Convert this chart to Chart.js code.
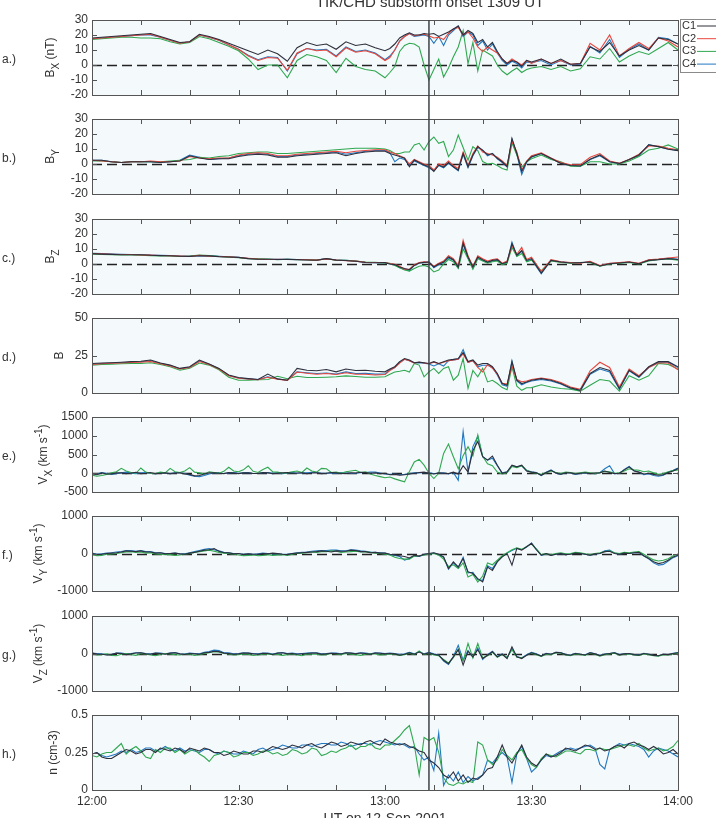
<!DOCTYPE html>
<html>
<head>
<meta charset="utf-8">
<script src="https://cdn.jsdelivr.net/npm/chart.js@4.4.1/dist/chart.umd.min.js"></script>
<style>
html, body { margin: 0; padding: 0; background: #fff; }
#wrap { position: relative; width: 716px; height: 818px; overflow: hidden; background: #fff; }
#wrap canvas { position: absolute; left: 0; }
</style>
</head>
<body>
<div id="wrap"></div>
<script>
// time axes, minutes after 12:00 UT (field panels on a coarser grid than the plasma panels)
const minutes = [0,2,4,6,8,10,12,14,16,18,20,22,24,26,28,30,32,34,36,38,40,42,44,46,48,50,52,54,56,58,60,
  61,62,63,64,65,66,67,68,69,70,71,72,73,74,75,76,77,78,79,80,81,82,83,84,85,86,87,88,89,90,
  92,94,96,98,100,102,104,106,108,110,112,114,116,118,120];
const minutesFine = [0,1,2,3,4,5,6,7,8,9,10,11,12,13,14,15,16,17,18,19,20,21,22,23,24,25,26,27,28,29,30,
  31,32,33,34,35,36,37,38,39,40,41,42,43,44,45,46,47,48,49,50,51,52,53,54,55,56,57,58,59,60,
  61,62,63,64,65,66,67,68,69,70,71,72,73,74,75,76,77,78,79,80,81,82,83,84,85,86,87,88,89,90,
  91,92,93,94,95,96,97,98,99,100,101,102,103,104,105,106,107,108,109,110,111,112,113,114,115,116,117,118,119,120];
const timeTicks = [0,10,20,30,40,50,60,70,80,90,100,110,120];
const timeLabelMinutes = [0,30,60,90,120];
const timeLabels = ['12:00','12:30','13:00','13:30','14:00'];
const onsetMinute = 69; // 13:09 UT

// tick labels for each panel
const bTicks = [-20,-10,0,10,20,30];
const btTicks = [0,25,50];
const vxTicks = [-500,0,500,1000,1500];
const vTicks = [-1000,0,1000];
const nTicks = [0,0.25,0.5];

// a.) Bx (nT)
const bx1 = [18,18.5,19,19.5,20,20.5,21,19,17,15,15.5,20.5,19,17,14.5,12,9.5,7,10,7.5,2.5,11.5,15,13,14,10.5,15.5,13,14,11.5,9.5, 11,14,18,20,21.5,20,20,21,20.5,21,19,20.5,22,24,26,20,23,21,15,17,12,15,9,4,1,3,2,-1,3,2, 4,1,4,0.5,1,12,9,15,6,10,13,10,18,17,14];
const bx2 = [17.5,18,18.5,19,19.5,20,20.5,18.5,16.5,14.5,15.5,20,18.5,16.5,13.5,10.5,6,3,5,4.5,-3.5,8,11,9.5,10,5.5,11.5,8.5,9.5,7.5,3, 5,10,16,19,21,19.5,20,20.5,19.5,18,18.5,17,21,24,25,20,22,18,12,9,12,10,8,4,1,4,2,0,3,1, 4,1,3,0.5,1,14.5,10,20,6,11,15,11,18,16,12];
const bx3 = [17,17.5,18,18.5,18.5,18,18,17.5,15.5,14,15,19,17.5,15,12.5,9.5,4,-3,0,0,-8.5,3,7,5.5,3,-5,4.5,-1,-3,-4,-8.5, -5,-1,9,13,14.5,14,12,0,-10,-3,4,-8,-2,5.5,12,23,1,15,-4,10,8,6,0,-4,-6.5,-4,-2,-5,-3,-2, -1,-3,-1,-4,-2.5,5.5,4,11,2,6,9,7,11,15,10];
const bx4 = [17.5,18,18.5,19,19.5,20,20,18.5,16.5,14.5,15.5,20,18.5,16.5,13.5,10.5,6.5,3.5,5.5,5,-4,7.5,11,10,10.5,6,12,9,10,8,3.5, 6,10,16,19,21,19,19.5,20,19,14.5,19,13,20,23,26,19,22,20,13,16,10,14,8,3,0,2.5,1,-2,2,1.5, 3,0,3,0,0.5,12.5,8,17,5,10.5,14,10,18.5,17.5,14];

// b.) By
const by1 = [2.5,2.5,1.5,1,1.5,1.5,1.5,1,1.5,2,5.5,4,3,3.5,3.5,5,6,6.5,6,4.5,4.5,5.5,6,6.5,7,7.5,5.5,7,8,8.5,8.5, 7,6,5,3.8,-1.8,2.7,1,-0.7,-1.8,-5,-0.7,-2,1,-1.8,-4,7,-1.8,6,11.6,9.3,6,7,3.8,1.5,-1.8,17,7,-5,1.5,4.9, 7,3.8,0.4,-1,-1.3,3.1,6,1.5,0.4,3,6,12.7,11.6,9.8,8.9];
const by2 = [2.5,2,1.5,1,1.5,1.5,2,1.5,1.5,2,5,4,3.5,4,4,6,7,7.5,7,5.5,5.5,6.5,7,7.5,8,8.5,7.5,8.5,9,9.5,9.5, 8,7,5.5,4,0,3,1.5,0,-1,-4,0,-1,2,-1,-3,8,-1,7,12,8,7,6,4.5,2,-1,15,8,-4,2,5.5, 7.5,4,1,-0.5,-0.5,4.5,7,2,0.5,3,6.5,12,12,10.5,9.5];
const by3 = [2,2,1.5,1,1.5,1.5,1.5,1.5,2,2.5,3,4.5,4,5,5.5,7,7.5,8,8,7,7,7.5,8,8.5,9,9.5,10,10.5,10.5,10.5,10, 9,7,7,8,8,12.7,13.8,9.3,15,18,13.8,15,5,9.3,19.3,11,2.5,11.6,9,1.6,0,0.5,-1,-3,-4,14,6,-2,1.5,3.5, 6,3,1.5,-1.5,-1.5,1.5,1.5,0,0,2,5,9.3,10.5,12.7,10];
const by4 = [2.5,2.5,1.5,1,1.5,1.5,1.5,1,1.5,2.5,6,4.5,3,3.5,4,5.5,6.5,7,6.5,5,5,6,6.5,7,7.5,8,6.5,7.5,8.5,9,9, 7.5,1.5,4,3,-1,2,0.5,-1,-2.5,-4.5,-1,-2.5,0.5,-2,-4.5,6.5,-2.5,5.5,11,9,5.5,7,3.5,1,-2,16.5,6.5,-7,1,4.5, 7,3.5,0.5,-1,-1.5,3,5.5,1.5,0,3,5.5,13,11.5,10,9];

// c.) Bz
const bz1 = [6.9,6.6,6.4,6.2,6.2,6.2,5.8,5.6,5.5,5.2,5.1,5.5,5.4,4.9,4.7,4.4,3.6,3.2,3.2,3,3.1,2.9,2.7,2.5,3.6,2.6,2.3,1.8,1,0.8,0.9, 0,-0.4,-2,-3,-3.8,-0.9,0.7,1.1,1.3,-2,0,1.3,4.7,2.9,-2,14,4.7,-2,4.7,2.9,1.3,2.4,2.9,0.2,1.3,13.6,5.8,9,2.4,3.6, -6,2.4,1.3,0.7,0.9,1.3,-1.3,0.2,0.7,1.3,0.2,2.4,2.9,3.6,3];
const bz2 = [7,6.8,6.5,6.3,6.3,6,5.9,5.7,5.5,5.3,5,5.8,5.2,5,4.8,4.3,3.8,3.3,3,3.2,3,3,2.8,2.6,3.4,2.7,2.2,1.9,1.2,1,1, 0.3,-0.2,-1.5,-3.5,-3.5,-0.5,1,1.5,1,-1.5,0.5,2,5.5,3.5,-1,15.8,5.5,-1.5,5.5,3.5,2,3,3.5,0.5,2,12,6.5,11,3,4.5, -5,3,1.5,1,0.5,1.8,-1,0.5,1,1.5,0.5,2.8,3.3,4,4.7];
const bz3 = [6.5,6.3,6.2,6,6,5.8,5.6,5.4,5.3,5,5.3,5.9,5.6,5,4.6,4.2,3.5,3.4,3.3,2.8,3.2,2.8,2.9,2.6,3.5,2.5,2.4,2,1.3,1.1,0.7, 0.5,-1,-2.5,-4,-4.7,-3,-1.5,-1,-2,-5.3,-4,0,3,1.5,-3,10,3.5,-3.5,3.5,2,0.5,1.5,2,-0.5,0.5,11,5,7,1.5,2.5, -4.5,2,1,0.5,1,1,-1.5,0,0.5,1,0,2,3,3.3,2.5];
const bz4 = [7.2,6.9,6.6,6.4,6.3,6.1,6,5.8,5.6,5.3,5.2,5.6,5.4,5.1,4.8,4.5,3.7,3.3,3.1,3.1,3.2,3,2.8,2.6,3.7,2.7,2.4,1.9,1.1,0.9,0.8, 0,-0.5,-2.5,-3.5,-4.5,-1,0.5,1,1.5,-2.5,-0.5,1,4,2.5,-2.5,13,4,-3,4,2.5,1,2,2.5,0,1,14.5,5.5,8.5,2,3, -6.5,2.5,1.5,0.8,0.8,1.5,-1.2,0.3,0.8,1.2,0.3,2.6,3.1,3.8,3.2];

// d.) |B|
const bt1 = [19.7,20,20.2,20.5,20.9,21.2,22,20,18.6,16.4,17.5,22,19.3,16.4,12,10.3,9.6,9,12.6,9.4,8.5,16.4,15.2,14.8,15.7,14.1,16,15,15.2,14.5,14.1, 16,17.5,20.9,23,22,20.2,20.6,20.2,19.7,20.9,19.7,20.9,22,22.4,23,27,21,22,18.6,19.7,19.7,17.5,13,6.3,5.2,20.9,8.5,6.3,7.4,8.5, 9.6,8.5,6.3,3.4,1.8,13,17,15,2.9,15.2,10.8,17.5,20.9,20.9,17.5];
const bt2 = [19,19.5,19.8,20,20.3,20.6,21,19.5,18,16,17,21,19,16,11.5,9.8,9.3,8.8,10.5,9.2,8.4,14,13.2,12.5,13,12.3,13.5,12.5,12.5,12,12.3, 15,17,20,22.5,21.5,20,20.5,20,19.5,20.5,19.5,20.5,21.5,22,22.5,26,20.5,21.5,17,14,19,16.5,12.5,6.5,6,18,9,7.5,8,9, 10,9,7,4,2.5,14.8,20.5,17,4,16,11.5,17,20,20,15.5];
const bt3 = [18.6,19,19.2,19.5,19.7,19.7,20.2,19,17.5,15.2,16.5,20,18.6,15.5,10.5,8.5,8.5,8.8,9,11.2,9.5,11.2,10.3,10.3,10.5,10.8,11.4,11,10.5,10.5,10.8, 12.5,14,14.5,15.2,14,19.7,18.6,10.8,14.1,16.4,13,16.4,17.5,8.5,11.9,23,3,15,10.8,16.4,7.4,8.5,6.3,3.6,2.2,17.5,4.5,1.8,3.5,3.6, 5.5,4,3,2.5,1.2,5.2,9,8,1.2,11.5,8.5,11.5,19.7,19,16];
const bt4 = [19.2,19.6,20,20.2,20.5,20.8,21.5,19.8,18.3,16.2,17.2,21.5,19.1,16.2,11.7,10,9.4,8.9,10.8,9.3,8.5,14.1,13.5,13,13.3,12.6,14.1,13,13.2,12.6,12.6, 15.5,17,20.5,22.5,21.5,20,20.2,19.8,19.3,18,19.5,18,21.5,22,22.5,29,20.5,21.5,17.5,18.5,18.5,17,12,5.5,4.5,21.5,8,5.5,7,8, 9,8,6,3,1.5,12.5,16,14,2.5,14.8,10.5,17,20.5,20.5,17];

// e.) Vx (km/s) - no ion data from C2
const vx1 = [-10,-40,10,-20,-20,10,15,-10,5,25,-10,0,20,-15,0,10,-15,5,10,-20,-30,-70,-60,-20,10,15,0,-10,20,5,-10,10,15,-5,-5,20,10,-15,0,10,20,0,5,15,-15,5,10,-10,0,20,15,-5,-10,10,5,25,20,0,10,-10,0,
  -40,-30,-50,-40,-20,0,20,30,0,-20,10,0,-10,30,-20,200,35,600,850,440,350,460,215,0,35,215,170,215,60,30,
  10,-55,20,80,10,-25,15,10,-20,0,15,-10,5,10,60,20,-10,0,90,170,60,30,-20,0,-30,-55,-40,20,60,125];
const vx3 = [-50,-80,-60,-30,10,40,130,60,20,0,140,30,0,-10,30,10,130,40,20,60,150,30,10,-20,40,20,0,50,160,60,40,90,200,50,20,100,160,40,30,0,10,40,60,20,140,60,30,130,120,20,30,0,40,60,80,20,40,-20,-60,-90,-120,
  -100,-150,-190,-230,50,300,370,215,0,-140,0,530,780,440,120,470,710,460,1020,450,250,200,30,-20,10,180,150,200,80,20,
  0,-30,10,60,20,-10,30,20,-10,10,30,10,-10,20,50,40,0,10,60,120,90,80,40,60,10,-30,-10,40,70,90];
const vx4 = [0,-20,20,0,-30,-10,10,30,0,-15,10,20,0,-10,10,5,-10,15,20,-5,-50,-80,-90,-60,-20,5,10,-5,10,20,0,10,20,-5,0,15,20,5,10,-10,10,20,0,15,10,25,20,0,0,10,0,20,10,-5,0,15,20,35,30,5,-20,
  -30,-20,-40,-30,-10,10,10,20,10,-10,0,10,-20,20,-190,1110,35,710,980,440,350,400,200,10,40,200,170,200,70,40,
  20,-60,30,90,0,-30,20,5,-30,-5,10,-5,-10,15,120,200,-10,-5,100,180,70,25,-40,-10,-60,-80,-50,25,80,140];

// f.) Vy
const vy1 = [0,-30,-20,0,10,20,40,70,60,50,70,40,40,10,20,-10,0,10,-10,-20,10,30,60,90,100,130,60,20,20,-10,0,-30,-10,-20,-20,0,-10,10,0,-20,-30,0,10,20,30,40,50,70,60,40,70,60,60,90,80,50,50,20,30,10,10,
  -20,-40,-60,-80,-120,-50,-70,-20,0,20,-20,-90,-400,-225,-360,-135,-490,-535,-670,-760,-360,-450,-225,-90,0,-310,135,90,180,270,
  100,-45,0,-50,-20,0,-30,-20,10,0,-20,-45,-10,0,50,60,0,-20,10,0,20,30,-60,-135,-220,-270,-240,-180,-90,-45];
const vy3 = [-30,-60,-50,-20,-10,0,20,40,50,30,40,10,20,-10,-20,-30,-30,-50,-40,-20,0,30,50,70,90,60,30,10,0,-20,-40,-60,-50,-40,-60,-50,-30,-50,-40,-30,-50,-20,0,10,20,40,30,50,50,70,60,30,40,50,60,40,40,30,10,0,-20,
  -40,-100,-135,-150,-150,-70,-60,-40,-20,0,-40,-150,-350,-300,-400,-250,-625,-560,-760,-600,-250,-300,-180,-60,20,100,150,110,190,250,
  120,-30,-10,-30,0,20,-10,0,30,20,-10,-30,0,20,50,70,20,0,30,20,40,50,-20,-100,-170,-200,-180,-140,-60,-20];
const vy4 = [10,-20,-10,10,20,40,50,80,80,60,80,50,50,20,20,0,0,10,-10,-10,20,50,80,110,130,100,70,30,20,0,0,-20,-10,-20,-10,10,0,-10,-10,-20,-20,0,20,30,40,60,70,80,80,90,90,70,70,100,90,70,60,40,30,20,10,
  -30,-50,-80,-180,-130,-60,-80,-30,-10,10,-30,-100,-420,-250,-380,-100,-520,-500,-700,-715,-330,-400,-200,-80,10,80,140,100,170,280,
  110,-50,-10,-45,-20,0,-30,-15,10,0,-20,-45,-10,0,70,90,10,-20,10,0,20,30,-70,-140,-250,-310,-290,-200,-110,-60];

// g.) Vz
const vz1 = [10,-15,-20,-40,-30,10,0,-30,-10,15,20,-10,-20,10,0,-20,10,20,-10,-25,0,-10,-20,20,30,60,50,10,0,-20,-10,15,10,-10,-20,5,0,-25,10,20,-10,0,-20,-10,0,15,10,-20,-10,5,0,-15,20,10,-10,15,0,-20,10,5,-10,
  0,-10,-45,-20,20,-20,40,-20,20,-20,-45,-180,-270,-90,100,-310,60,-90,100,-135,-45,45,-90,-20,-135,180,-90,-135,-45,20,
  -20,-70,0,-20,30,20,-30,-45,0,-20,-40,20,-10,-55,-20,0,20,-35,-10,0,-30,-45,0,-20,-50,-60,-20,-30,0,20];
const vz3 = [-10,-40,-30,-10,-50,-60,-20,0,-30,-50,0,-20,-40,-60,-20,0,-10,-30,-40,-20,-20,-50,-30,0,20,50,40,0,-10,-40,-30,-10,-20,-50,-40,-20,-10,-30,-20,-50,-30,-10,-40,-60,-10,-20,-20,-40,-30,0,-10,-30,0,-20,-30,-50,-20,-10,-10,-40,-30,
  -10,-20,-50,-30,10,-30,70,-30,10,-40,-60,-160,-250,-110,120,-200,270,-120,270,-120,-60,30,-100,-30,-100,100,-100,-110,-50,10,
  -30,-80,-20,-30,20,10,-40,-60,-10,-30,-50,10,-20,-70,-30,-10,10,-45,-20,-10,-40,-55,-10,-30,-60,-70,-30,-40,-10,10];
const vz4 = [10,0,-10,-30,-20,15,10,-10,0,20,20,0,-10,10,10,-10,10,25,-10,-15,10,0,-10,30,50,90,80,20,20,-10,0,20,10,0,-10,10,10,-15,10,25,0,10,-10,0,10,20,20,-5,0,10,10,-5,20,15,0,20,10,-10,20,15,0,
  10,0,-30,-10,30,-10,50,-10,30,-10,-40,-200,-290,-80,220,-180,80,-100,150,-160,-30,60,-80,-10,-120,130,-80,-120,-30,30,
  -10,-65,5,-20,30,25,-25,-40,5,-20,-35,25,-5,-50,-15,0,25,-30,-5,0,-25,-40,5,-20,-45,-60,-20,-25,5,25];

// h.) density (cm-3)
const n1 = [0.24,0.25,0.22,0.21,0.21,0.23,0.25,0.27,0.26,0.24,0.25,0.27,0.27,0.25,0.28,0.27,0.26,0.28,0.27,0.25,0.28,0.27,0.26,0.28,0.27,0.25,0.25,0.23,0.24,0.26,0.25,0.24,0.24,0.26,0.26,0.25,0.27,0.29,0.28,0.27,0.28,0.30,0.29,0.28,0.30,0.31,0.29,0.28,0.30,0.32,0.31,0.29,0.30,0.32,0.31,0.30,0.32,0.33,0.31,0.30,0.34,
  0.32,0.31,0.30,0.31,0.29,0.28,0.26,0.25,0.20,0.18,0.15,0.10,0.08,0.12,0.06,0.10,0.05,0.08,0.07,0.10,0.14,0.15,0.22,0.30,0.22,0.18,0.24,0.30,0.22,0.18,
  0.16,0.20,0.24,0.22,0.23,0.25,0.28,0.27,0.26,0.28,0.30,0.29,0.27,0.28,0.26,0.27,0.29,0.30,0.28,0.31,0.32,0.30,0.29,0.27,0.29,0.27,0.24,0.25,0.27,0.24];
const n3 = [0.23,0.22,0.24,0.25,0.25,0.28,0.31,0.24,0.27,0.29,0.26,0.22,0.21,0.27,0.25,0.28,0.28,0.25,0.27,0.24,0.26,0.27,0.24,0.22,0.19,0.23,0.24,0.26,0.25,0.22,0.23,0.25,0.25,0.23,0.24,0.26,0.26,0.24,0.25,0.23,0.24,0.27,0.26,0.24,0.25,0.28,0.27,0.23,0.24,0.26,0.25,0.27,0.28,0.30,0.27,0.29,0.29,0.31,0.28,0.27,0.30,
  0.30,0.33,0.36,0.40,0.43,0.30,0.10,0.35,0.33,0.35,0.25,0.08,0.04,0.03,0.05,0.04,0.06,0.05,0.32,0.30,0.20,0.17,0.20,0.27,0.23,0.20,0.25,0.27,0.21,0.17,
  0.15,0.21,0.24,0.23,0.22,0.24,0.26,0.26,0.25,0.24,0.27,0.27,0.26,0.28,0.27,0.27,0.28,0.29,0.30,0.30,0.29,0.31,0.28,0.26,0.27,0.28,0.26,0.27,0.29,0.33];
const n4 = [0.24,0.25,0.23,0.22,0.23,0.24,0.26,0.25,0.27,0.25,0.26,0.28,0.28,0.26,0.27,0.29,0.27,0.26,0.28,0.26,0.27,0.26,0.25,0.27,0.27,0.25,0.24,0.26,0.25,0.24,0.24,0.26,0.25,0.24,0.27,0.28,0.26,0.27,0.28,0.30,0.29,0.28,0.28,0.30,0.30,0.29,0.30,0.31,0.31,0.30,0.30,0.32,0.31,0.29,0.30,0.31,0.31,0.30,0.32,0.33,0.32,
  0.31,0.30,0.31,0.30,0.28,0.29,0.24,0.20,0.22,0.13,0.38,0.03,0.10,0.06,0.12,0.05,0.09,0.06,0.08,0.10,0.20,0.18,0.22,0.25,0.22,0.05,0.24,0.29,0.21,0.12,
  0.15,0.20,0.23,0.22,0.24,0.26,0.27,0.28,0.27,0.28,0.29,0.30,0.28,0.17,0.14,0.27,0.29,0.31,0.30,0.31,0.30,0.29,0.27,0.22,0.26,0.28,0.27,0.26,0.24,0.22];

const colors = { C1: '#2e2f3c', C2: '#e8473d', C3: '#2fa84f', C4: '#2277c0' };
const FONT = '"Liberation Sans", Arial, sans-serif';

const panels = [
  { tag: 'a.)', yTitle: [['B', ''], ['X', 'sub'], [' (nT)', '']], titleX: 54, time: minutes, series: [bx1, bx2, bx3, bx4], names: ['C1', 'C2', 'C3', 'C4'], min: -20, max: 30, ticks: bTicks, zero: true },
  { tag: 'b.)', yTitle: [['B', ''], ['Y', 'sub']], titleX: 54, time: minutes, series: [by1, by2, by3, by4], names: ['C1', 'C2', 'C3', 'C4'], min: -20, max: 30, ticks: bTicks, zero: true },
  { tag: 'c.)', yTitle: [['B', ''], ['Z', 'sub']], titleX: 54, time: minutes, series: [bz1, bz2, bz3, bz4], names: ['C1', 'C2', 'C3', 'C4'], min: -20, max: 30, ticks: bTicks, zero: true },
  { tag: 'd.)', yTitle: [['B', '']], titleX: 63, time: minutes, series: [bt1, bt2, bt3, bt4], names: ['C1', 'C2', 'C3', 'C4'], min: 0, max: 50, ticks: btTicks, zero: false },
  { tag: 'e.)', yTitle: [['V', ''], ['X', 'sub'], [' (km s', ''], ['-1', 'sup'], [')', '']], titleX: 46.5, time: minutesFine, series: [vx1, vx3, vx4], names: ['C1', 'C3', 'C4'], min: -500, max: 1500, ticks: vxTicks, zero: true },
  { tag: 'f.)', yTitle: [['V', ''], ['Y', 'sub'], [' (km s', ''], ['-1', 'sup'], [')', '']], titleX: 41.5, time: minutesFine, series: [vy1, vy3, vy4], names: ['C1', 'C3', 'C4'], min: -1000, max: 1000, ticks: vTicks, zero: true },
  { tag: 'g.)', yTitle: [['V', ''], ['Z', 'sub'], [' (km s', ''], ['-1', 'sup'], [')', '']], titleX: 41.5, time: minutesFine, series: [vz1, vz3, vz4], names: ['C1', 'C3', 'C4'], min: -1000, max: 1000, ticks: vTicks, zero: true },
  { tag: 'h.)', yTitle: [['n (cm-3)', '']], titleX: 56.5, time: minutesFine, series: [n1, n3, n4], names: ['C1', 'C3', 'C4'], min: 0, max: 0.5, ticks: nTicks, zero: false }
];

// canvas stack: each canvas holds one panel, they tile the page vertically
const canvasTop = [0, 107, 207, 306, 405, 504, 604, 703];
const canvasH = [107, 100, 99, 99, 99, 100, 99, 115];
const padTop = [20, 12, 12, 12, 12, 12, 12, 12];
const areaH = 75;

Chart.defaults.font.family = FONT;
Chart.defaults.font.size = 12;
Chart.defaults.color = '#333';

function drawRotatedTitle(ctx, parts, x, yMid) {
  const widths = parts.map(([t, kind]) => {
    ctx.font = (kind ? 10 : 12) + 'px ' + FONT;
    return ctx.measureText(t).width;
  });
  const total = widths.reduce((s, w) => s + w, 0);
  ctx.save();
  ctx.translate(x, yMid);
  ctx.rotate(-Math.PI / 2);
  ctx.fillStyle = '#333';
  ctx.textAlign = 'left';
  ctx.textBaseline = 'alphabetic';
  let pos = -total / 2;
  parts.forEach(([t, kind], k) => {
    ctx.font = (kind ? 10 : 12) + 'px ' + FONT;
    const dy = kind === 'sub' ? 5 : kind === 'sup' ? -5 : 0;
    ctx.fillText(t, pos, dy);
    pos += widths[k];
  });
  ctx.restore();
}

function makeDecor(p, index, last) {
  return {
    id: 'decor' + index,
    beforeDraw(chart) {
      const { ctx, chartArea: a } = chart;
      ctx.save();
      ctx.fillStyle = '#f4f9fc';
      ctx.fillRect(a.left, a.top, a.right - a.left, a.bottom - a.top);
      ctx.restore();
    },
    beforeDatasetsDraw(chart) {
      if (!p.zero) return;
      const { ctx, chartArea: a } = chart;
      const y = Math.round(chart.scales.y.getPixelForValue(0)) + 0.5;
      ctx.save();
      ctx.strokeStyle = '#222';
      ctx.lineWidth = 1.4;
      ctx.setLineDash([10, 5]);
      ctx.beginPath();
      ctx.moveTo(a.left, y);
      ctx.lineTo(a.right, y);
      ctx.stroke();
      ctx.restore();
    },
    afterDraw(chart) {
      const { ctx, chartArea: a } = chart;
      const xs = chart.scales.x, ys = chart.scales.y;
      ctx.save();
      // frame and inside ticks
      ctx.strokeStyle = '#555';
      ctx.lineWidth = 1;
      ctx.strokeRect(Math.round(a.left) + 0.5, Math.round(a.top) + 0.5, Math.round(a.right - a.left), Math.round(a.bottom - a.top));
      ctx.beginPath();
      timeTicks.forEach(t => {
        const x = Math.round(xs.getPixelForValue(t)) + 0.5;
        ctx.moveTo(x, a.top); ctx.lineTo(x, a.top + 5);
        ctx.moveTo(x, a.bottom); ctx.lineTo(x, a.bottom - 5);
      });
      p.ticks.forEach(v => {
        const y = Math.round(ys.getPixelForValue(v)) + 0.5;
        ctx.moveTo(a.left, y); ctx.lineTo(a.left + 5, y);
        ctx.moveTo(a.right, y); ctx.lineTo(a.right - 5, y);
      });
      ctx.stroke();

      // onset line, continuous across stacked canvases
      const xo = xs.getPixelForValue(onsetMinute);
      ctx.strokeStyle = '#3d4346';
      ctx.lineWidth = 1.5;
      ctx.beginPath();
      ctx.moveTo(xo, index === 0 ? a.top : 0);
      ctx.lineTo(xo, last ? a.bottom : chart.height);
      ctx.stroke();

      // panel tag and axis title
      ctx.fillStyle = '#333';
      ctx.font = '12px ' + FONT;
      ctx.textAlign = 'left';
      ctx.textBaseline = 'middle';
      ctx.fillText(p.tag, 2, (a.top + a.bottom) / 2 + 2);
      drawRotatedTitle(ctx, p.yTitle, p.titleX, (a.top + a.bottom) / 2);

      if (index === 0) {
        // figure title
        ctx.font = '15px ' + FONT;
        ctx.textAlign = 'center';
        ctx.textBaseline = 'alphabetic';
        ctx.fillText('TIK/CHD substorm onset 1309 UT', 430, 7);
        // legend box
        const bx = 680, by = 19, bw = 60, bh = 53;
        ctx.fillStyle = '#fff';
        ctx.fillRect(bx, by, bw, bh);
        ctx.strokeStyle = '#8a8a8a';
        ctx.lineWidth = 1;
        ctx.strokeRect(bx + 0.5, by + 0.5, bw, bh);
        ctx.font = '11px ' + FONT;
        ctx.textBaseline = 'middle';
        ctx.textAlign = 'left';
        chart.data.datasets.forEach((ds, j) => {
          const y = by + 7 + j * 12.7;
          ctx.fillStyle = '#333';
          ctx.fillText(ds.label, bx + 2, y);
          ctx.strokeStyle = ds.borderColor;
          ctx.beginPath();
          ctx.moveTo(bx + 17, y);
          ctx.lineTo(bx + 40, y);
          ctx.stroke();
        });
      }
      if (last) {
        ctx.fillStyle = '#333';
        ctx.font = '14px ' + FONT;
        ctx.textAlign = 'center';
        ctx.textBaseline = 'alphabetic';
        ctx.fillText('UT on 12-Sep-2001', 385, 120);
      }
      ctx.restore();
    }
  };
}

const wrap = document.getElementById('wrap');
panels.forEach((p, i) => {
  const last = i === panels.length - 1;
  const below = canvasH[i] - padTop[i] - areaH;
  const c = document.createElement('canvas');
  c.width = 716;
  c.height = canvasH[i];
  c.style.top = canvasTop[i] + 'px';
  c.style.width = '716px';
  c.style.height = canvasH[i] + 'px';
  wrap.appendChild(c);

  new Chart(c, {
    type: 'line',
    data: {
      datasets: p.series.map((vals, j) => ({
        label: p.names[j],
        data: p.time.map((t, k) => ({ x: t, y: vals[k] })),
        borderColor: colors[p.names[j]],
        borderWidth: 1.1,
        pointRadius: 0,
        tension: 0,
        fill: false
      }))
    },
    options: {
      responsive: false,
      animation: false,
      devicePixelRatio: 1,
      events: [],
      layout: { padding: { top: padTop[i], bottom: last ? 0 : below, left: 0, right: 38 } },
      plugins: { legend: { display: false }, tooltip: { enabled: false }, title: { display: false } },
      scales: {
        x: {
          type: 'linear', min: 0, max: 120, display: last,
          afterBuildTicks: s => { s.ticks = timeLabelMinutes.map(v => ({ value: v })); },
          afterFit: s => { s.height = last ? below : 0; },
          ticks: { autoSkip: false, maxRotation: 0, padding: 4, color: '#333', font: { size: 12 },
            callback: v => timeLabels[timeLabelMinutes.indexOf(v)] },
          grid: { display: false, drawTicks: false },
          border: { display: false }
        },
        y: {
          type: 'linear', min: p.min, max: p.max,
          afterBuildTicks: s => { s.ticks = p.ticks.map(v => ({ value: v })); },
          afterFit: s => { s.width = 92; },
          ticks: { autoSkip: false, padding: 4, color: '#333', font: { size: 12 }, callback: v => String(v) },
          grid: { display: false, drawTicks: false },
          border: { display: false }
        }
      }
    },
    plugins: [makeDecor(p, i, last)]
  });
});
</script>
</body>
</html>
